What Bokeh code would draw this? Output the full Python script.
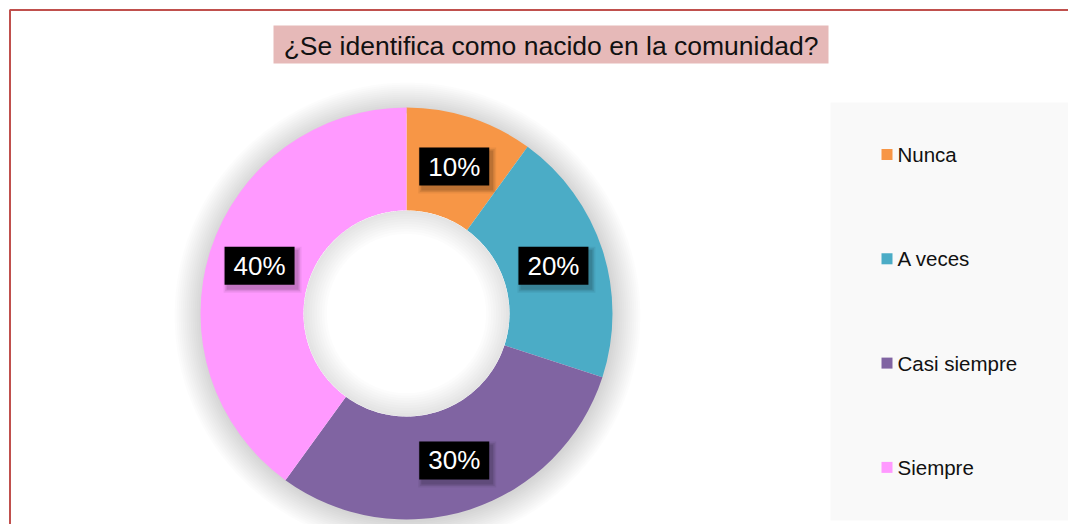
import numpy as np
from bokeh.plotting import figure
from bokeh.models import ColumnDataSource
from bokeh.core.properties import value
from bokeh.embed import file_html
from bokeh.resources import INLINE

# ---- data ----
categories = ["Nunca", "A veces", "Casi siempre", "Siempre"]
percent = [10, 20, 30, 40]
colors = ["#F79646", "#4BACC6", "#8064A2", "#FF99FF"]
title_text = "¿Se identifica como nacido en la comunidad?"

W, H = 1068, 524
FONT = value("Liberation Sans")


def Y(py):
    # convert a pixel row (from top) to data y
    return H - py


p = figure(width=W, height=H, x_range=(0, W), y_range=(0, H),
           output_backend="svg", toolbar_location=None,
           x_axis_location=None, y_axis_location=None, min_border=0)
p.grid.visible = False
p.outline_line_color = None
p.background_fill_color = "white"
p.border_fill_color = "white"

# chart-area frame (right and bottom sides fall outside the view)
p.quad(left=[9.5], right=[W + 30], top=[Y(9.5)], bottom=[-30],
       fill_color=None, line_color="#C0504D", line_width=2)

# ---- donut ----
cx, cy = 406, Y(313)
r_out, r_in = 206, 103
vals = np.array(percent, dtype=float)
frac = vals / vals.sum()
cum = np.cumsum(frac)
prev = np.concatenate([[0], cum[:-1]])
start = np.pi / 2 - 2 * np.pi * prev
end = np.pi / 2 - 2 * np.pi * cum
mid = (start + end) / 2

# soft outer shadow
for k in range(14):
    p.annular_wedge(x=cx + 1, y=cy - 2, inner_radius=r_out - 4, outer_radius=r_out + 1 + k * 2,
                    start_angle=0, end_angle=2 * np.pi, fill_color="black",
                    fill_alpha=0.011, line_color=None)

src = ColumnDataSource(dict(cat=categories, start=start, end=end, color=colors))
p.annular_wedge(x=cx, y=cy, inner_radius=r_in, outer_radius=r_out,
                start_angle="end", end_angle="start", direction="anticlock",
                fill_color="color", line_color=None, source=src)
p.circle(x=[cx], y=[cy], radius=r_in, fill_color="white", line_color=None)
# soft inner shadow inside the hole
for k in range(10):
    p.annular_wedge(x=cx, y=cy, inner_radius=r_in - 1 - k * 2.5, outer_radius=r_in,
                    start_angle=0, end_angle=2 * np.pi, fill_color="black",
                    fill_alpha=0.01, line_color=None)

# ---- data labels ----
r_lab = (r_in + r_out) / 2
lx = cx + r_lab * np.cos(mid)
ly = cy + r_lab * np.sin(mid)
labels = [f"{v}%" for v in percent]
lsrc = ColumnDataSource(dict(x=lx, y=ly, sx=lx + 3, sy=ly - 4, t=labels))
for grow, a in [(8, 0.06), (5, 0.08), (2, 0.12)]:
    p.rect(x="sx", y="sy", width=70 + grow, height=38 + grow, fill_color="black",
           fill_alpha=a, line_color=None, source=lsrc)
p.rect(x="x", y="y", width=70, height=38, fill_color="black", line_color=None, source=lsrc)
p.text(x="x", y="y", text="t", text_color="white", text_font=FONT,
       text_font_size=value("26px"), text_align="center", text_baseline="middle",
       source=lsrc)

# ---- title ----
p.rect(x=[550.5], y=[Y(44)], width=555, height=38, fill_color="#E6B9B8", line_color=None)
p.text(x=[550.5], y=[Y(45)], text=[title_text], text_color="#111111", text_font=FONT,
       text_font_size=value("26.5px"), text_align="center", text_baseline="middle")

# ---- legend ----
p.rect(x=[950], y=[Y(311)], width=240, height=418, fill_color="#F9F9F9", line_color=None)
leg_y = Y(154) - 104.3 * np.arange(len(categories))
p.rect(x=[886.5] * len(categories), y=leg_y, width=11, height=11,
       fill_color=colors, line_color=None)
p.text(x=[897] * len(categories), y=leg_y, text=categories, text_color="#111111",
       text_font=FONT, text_font_size=value("20.5px"), text_align="left",
       text_baseline="middle")

open("out.html", "w").write(file_html(p, INLINE))
